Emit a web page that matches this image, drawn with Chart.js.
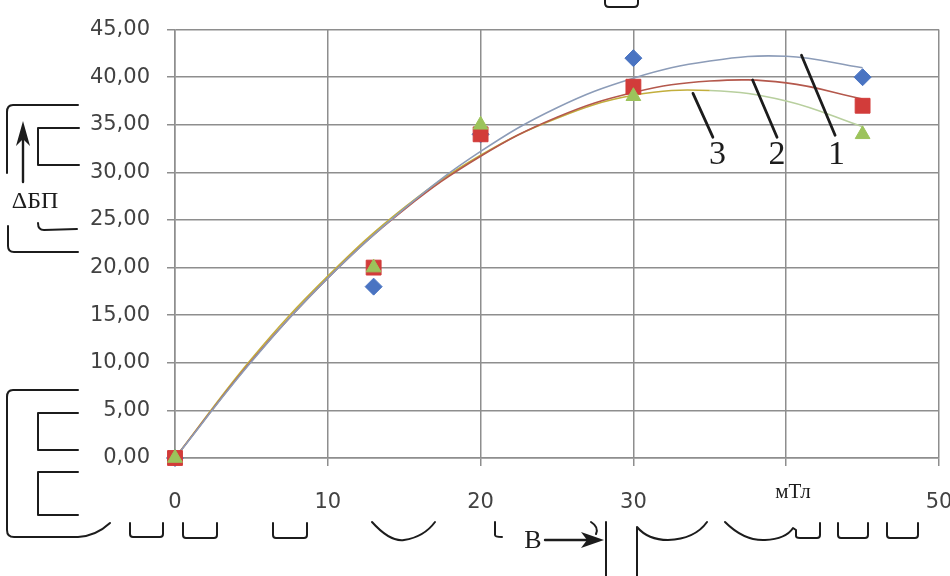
<!DOCTYPE html>
<html>
<head>
<meta charset="utf-8">
<script src="https://cdn.jsdelivr.net/npm/chart.js@4/dist/chart.umd.min.js"></script>
<style>
  html, body { margin: 0; padding: 0; overflow: hidden; background: #fff; }
  canvas { display: block; }
</style>
</head>
<body>
<canvas id="chart" width="960" height="576"></canvas>
<script>
// Magnetic induction B, mT (measurement points)
const inductionMT = [0, 13, 20, 30, 45];
// Measured ΔБП for the three samples
const sample1 = [0, 18, 34, 42, 40];
const sample2 = [0, 20, 34, 39, 37];
const sample3 = [0, 20, 35, 38, 34];

// Trend curves sampled along B
const trendB = [0, 5, 10, 15, 20, 25, 30, 35, 40, 45];
const trend1 = [0, 10.1, 18.9, 26.2, 32.2, 36.8, 39.9, 41.7, 42.2, 41.0];
const trend2 = [0, 10.2, 18.9, 26.1, 31.7, 35.8, 38.4, 39.6, 39.4, 37.7];
const trend3 = [0, 10.4, 19.1, 26.3, 31.8, 35.7, 38.1, 38.6, 37.5, 34.8];

// Axis ticks
const xTicks = [0, 10, 20, 30, 40, 50];
const xTickLabels = ['0', '10', '20', '30', '', '50'];
const yTicks = [0, 5, 10, 15, 20, 25, 30, 35, 40, 45];
const yTickLabels = ['0,00', '5,00', '10,00', '15,00', '20,00', '25,00', '30,00', '35,00', '40,00', '45,00'];

// Text drawn on the figure
const xUnit = 'мТл';
const yName = 'ΔБП';
const xName = 'В';
const curveNames = ['1', '2', '3'];

const pts = (xs, ys) => xs.map((x, i) => ({ x: x, y: ys[i] }));

const INK = '#1c1c1c';
const GRID = '#8e8e8e';

// Hand-drawn annotations around the plot
const annotations = {
  id: 'annotations',
  afterDraw(chart) {
    const ctx = chart.ctx;
    const xs = chart.scales.x, ys = chart.scales.y;
    const px = v => xs.getPixelForValue(v);
    const py = v => ys.getPixelForValue(v);
    ctx.save();
    ctx.strokeStyle = INK;
    ctx.fillStyle = INK;
    ctx.lineWidth = 2.8;
    ctx.lineCap = 'round';
    ctx.lineJoin = 'round';

    // leader lines to the curves with their numbers
    const leaders = [
      { from: [41.0, 42.3], to: [43.2, 33.9], text: [43.3, 31.9] },
      { from: [37.8, 39.7], to: [39.4, 33.7], text: [39.4, 31.9] },
      { from: [33.9, 38.3], to: [35.2, 33.7], text: [35.5, 31.9] }
    ];
    ctx.font = '34px "Liberation Serif", "DejaVu Serif", serif';
    ctx.textAlign = 'center';
    ctx.textBaseline = 'middle';
    leaders.forEach((l, i) => {
      ctx.beginPath();
      ctx.moveTo(px(l.from[0]), py(l.from[1]));
      ctx.lineTo(px(l.to[0]), py(l.to[1]));
      ctx.stroke();
      ctx.fillText(curveNames[i], px(l.text[0]), py(l.text[1]) + 1);
    });

    // unit of the x axis in place of the 40 label
    ctx.font = '21px "Liberation Serif", "DejaVu Serif", serif';
    ctx.fillText(xUnit, 793, 492);

    // y quantity with upward arrow
    ctx.font = '24px "Liberation Serif", "DejaVu Serif", serif';
    ctx.fillText(yName, 35, 202);
    ctx.lineWidth = 2.4;
    ctx.beginPath(); ctx.moveTo(23, 182); ctx.lineTo(23, 132); ctx.stroke();
    ctx.beginPath();
    ctx.moveTo(23, 121); ctx.lineTo(16, 146); ctx.lineTo(23, 139); ctx.lineTo(30, 146);
    ctx.closePath(); ctx.fill();

    // x quantity with right arrow
    ctx.font = '26px "Liberation Serif", "DejaVu Serif", serif';
    ctx.fillText(xName, 533, 541);
    ctx.beginPath(); ctx.moveTo(545, 540); ctx.lineTo(592, 540); ctx.stroke();
    ctx.beginPath();
    ctx.moveTo(604, 540); ctx.lineTo(581, 532); ctx.lineTo(587, 540); ctx.lineTo(581, 548);
    ctx.closePath(); ctx.fill();

    // brackets and outlines of the neighbouring drawing
    const path = (fn) => { ctx.beginPath(); fn(); ctx.stroke(); };
    ctx.lineWidth = 2;
    // left, upper group
    path(() => { ctx.moveTo(78, 105); ctx.lineTo(13, 105); ctx.quadraticCurveTo(7, 105, 7, 112); ctx.lineTo(7, 173); });
    path(() => { ctx.moveTo(8, 226); ctx.lineTo(8, 246); ctx.quadraticCurveTo(8, 252, 14, 252); ctx.lineTo(78, 252); });
    path(() => { ctx.moveTo(79, 128); ctx.lineTo(38, 128); ctx.lineTo(38, 165); ctx.lineTo(79, 165); });
    path(() => { ctx.moveTo(38, 223); ctx.quadraticCurveTo(38, 230, 44, 230); ctx.lineTo(77, 229); });
    // left, lower group
    path(() => {
      ctx.moveTo(78, 390); ctx.lineTo(13, 390); ctx.quadraticCurveTo(7, 390, 7, 397);
      ctx.lineTo(7, 530); ctx.quadraticCurveTo(7, 537, 14, 537); ctx.lineTo(78, 537);
      ctx.quadraticCurveTo(96, 536, 110, 523);
    });
    path(() => { ctx.moveTo(78, 413); ctx.lineTo(38, 413); ctx.lineTo(38, 450); ctx.lineTo(78, 450); });
    path(() => { ctx.moveTo(78, 472); ctx.lineTo(38, 472); ctx.lineTo(38, 515); ctx.lineTo(78, 515); });
    // bottom cups
    const cup = (x0, x1, top, bot) => path(() => {
      ctx.moveTo(x0, top); ctx.lineTo(x0, bot - 3); ctx.quadraticCurveTo(x0, bot, x0 + 3, bot);
      ctx.lineTo(x1 - 3, bot); ctx.quadraticCurveTo(x1, bot, x1, bot - 3); ctx.lineTo(x1, top);
    });
    cup(130, 163, 523, 537);
    cup(183, 217, 523, 538);
    cup(273, 307, 523, 538);
    cup(838, 868, 523, 538);
    cup(887, 918, 523, 538);
    path(() => { ctx.moveTo(372, 522); ctx.quadraticCurveTo(390, 542, 404, 540); ctx.quadraticCurveTo(424, 537, 435, 522); });
    path(() => { ctx.moveTo(495, 522); ctx.lineTo(495, 535); ctx.quadraticCurveTo(495, 537, 502, 537); });
    path(() => { ctx.moveTo(591, 522); ctx.quadraticCurveTo(599, 527, 596, 534); });
    path(() => { ctx.moveTo(606, 522); ctx.lineTo(606, 580); });
    path(() => {
      ctx.moveTo(637, 580); ctx.lineTo(637, 527);
      ctx.quadraticCurveTo(648, 540, 668, 540); ctx.quadraticCurveTo(695, 539, 707, 522);
    });
    path(() => {
      ctx.moveTo(725, 522); ctx.quadraticCurveTo(744, 541, 765, 540);
      ctx.quadraticCurveTo(786, 539, 793, 528);
      ctx.lineTo(796, 530); ctx.lineTo(796, 536); ctx.quadraticCurveTo(796, 538, 800, 538);
      ctx.lineTo(817, 538); ctx.quadraticCurveTo(820, 538, 820, 535); ctx.lineTo(820, 523);
    });
    // top outline
    path(() => {
      ctx.moveTo(605, -2); ctx.lineTo(605, 3); ctx.quadraticCurveTo(605, 7, 609, 7);
      ctx.lineTo(634, 7); ctx.quadraticCurveTo(638, 7, 638, 3); ctx.lineTo(638, -2);
    });
    ctx.restore();
  }
};

const markerSet = (data, style, color, radius, order) => ({
  type: 'scatter', data: data, showLine: false, order: order, clip: false,
  pointStyle: style, pointRadius: radius, pointHoverRadius: radius,
  pointBackgroundColor: color, pointBorderColor: color, pointBorderWidth: 1
});
const trendSet = (data, color, order, segment) => ({
  type: 'scatter', data: data, showLine: true, order: order,
  borderColor: color, borderWidth: 1.6, pointRadius: 0, pointHoverRadius: 0,
  tension: 0.4, fill: false, segment: segment
});

new Chart(document.getElementById('chart'), {
  type: 'scatter',
  data: {
    datasets: [
      markerSet(pts(inductionMT, sample3), 'triangle', '#9cc35b', 8.5, 0),
      markerSet(pts(inductionMT, sample2), 'rect', '#d23c3a', 10.5, 1),
      markerSet(pts(inductionMT, sample1), 'rectRot', '#4a74c2', 8.5, 2),
      trendSet(pts(trendB, trend1), '#8c9cb8', 3),
      trendSet(pts(trendB, trend2), '#b4584c', 4),
      trendSet(pts(trendB, trend3), '#c2ae3c', 5, {
        borderColor: c => (c.p0.parsed.x >= 35 ? '#b8cf9e' : undefined)
      })
    ]
  },
  options: {
    responsive: false,
    animation: false,
    events: [],
    layout: { padding: { left: 0, right: 21, top: 29, bottom: 0 } },
    plugins: { legend: { display: false }, tooltip: { enabled: false } },
    scales: {
      x: {
        type: 'linear', min: 0, max: 50,
        afterBuildTicks: s => { s.ticks = xTicks.map(v => ({ value: v })); },
        afterFit: s => { s.height = 118; s.paddingLeft = 0; s.paddingRight = 0; },
        ticks: {
          callback: (v, i) => xTickLabels[i],
          font: { family: '"DejaVu Sans", sans-serif', size: 21 },
          color: '#424242', padding: 24, maxRotation: 0, autoSkip: false
        },
        grid: { color: GRID, lineWidth: 1.5, tickLength: 8 },
        border: { color: GRID, width: 1.5 }
      },
      y: {
        type: 'linear', min: 0, max: 45,
        afterBuildTicks: s => { s.ticks = yTicks.map(v => ({ value: v })); },
        afterFit: s => { s.width = 175; },
        ticks: {
          callback: (v, i) => yTickLabels[i],
          font: { family: '"DejaVu Sans", sans-serif', size: 21 },
          color: '#424242', padding: 17
        },
        grid: { color: GRID, lineWidth: 1.5, tickLength: 8 },
        border: { color: GRID, width: 1.5 }
      }
    }
  },
  plugins: [annotations]
});
</script>
</body>
</html>
